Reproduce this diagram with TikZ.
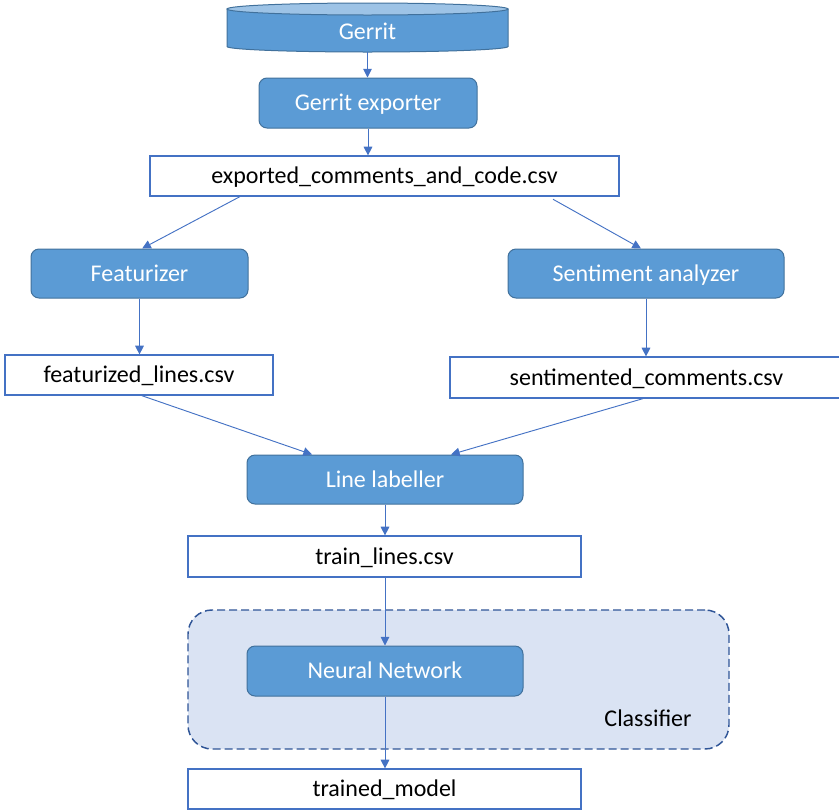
\documentclass[tikz,border=0pt]{standalone}
\usepackage{fontspec}
\setmainfont{Carlito}
\usetikzlibrary{arrows.meta,calc}
\definecolor{bfill}{HTML}{5B9BD5}
\definecolor{bborder}{HTML}{41719C}
\definecolor{lborder}{HTML}{4472C4}
\definecolor{cfill}{HTML}{DAE3F3}
\definecolor{cborder}{HTML}{2F5597}
\definecolor{ctop}{HTML}{9DC3E6}
\begin{document}
\begin{tikzpicture}[x=0.75pt,y=-0.75pt,
  every node/.style={font=\fontsize{18}{21}\selectfont,text height=11.6pt,text depth=0pt},
  bluebox/.style={draw=bborder,fill=bfill,rounded corners=6pt,text=white,minimum height=36.75pt,line width=0.75pt},
  filebox/.style={draw=lborder,fill=white,text=black,minimum height=30pt,line width=0.9pt},
  conn/.style={draw=lborder,line width=0.7pt,-{Triangle[length=6.5pt,width=6.5pt]}}]
\useasboundingbox (0,0) rectangle (839,811);
\clip (0,0) rectangle (839,811);
% Classifier container
\node[draw=cborder,fill=cfill,dash pattern=on 6pt off 3pt,rounded corners=18pt,line width=1.1pt,minimum width=405.75pt,minimum height=104.25pt] (clf) at (458.5,679.5) {};
\node[text=black] (clflabel) at (648,718.6) {Classifier};
% Gerrit cylinder
\fill[bfill,draw=bborder,line width=0.75pt] (227,9) -- (227,46.5) arc[start angle=180,end angle=0,x radius=140.5,y radius=5.5] -- (508,9) -- cycle;
\fill[ctop,draw=bborder,line width=0.75pt] (367.5,9) ellipse[x radius=140.5,y radius=6];
\node[text=white,minimum width=210pt,minimum height=30pt] (gerrit) at (367.5,31.6) {Gerrit};
% nodes
\node[bluebox,minimum width=163.5pt,minimum height=37.5pt] (exp) at (368,103) {Gerrit exporter};
\node[filebox,minimum width=351.75pt] (csv) at (384.5,176) {exported\_comments\_and\_code.csv};
\node[bluebox,minimum width=162.75pt] (feat) at (139.5,273.5) {Featurizer};
\node[bluebox,minimum width=207pt] (sent) at (646,273.5) {Sentiment analyzer};
\node[filebox,minimum width=201pt] (fcsv) at (139,375) {featurized\_lines.csv};
\node[filebox,minimum width=294.75pt,minimum height=30.75pt] (scsv) at (646.5,377.5) {sentimented\_comments.csv};
\node[bluebox,minimum width=207pt] (lab) at (385,479.5) {Line labeller};
\node[filebox,minimum width=294.75pt,minimum height=30.75pt] (train) at (384.5,556.5) {train\_lines.csv};
\node[bluebox,minimum width=207pt,minimum height=37.5pt] (nn) at (385,671) {Neural Network};
\node[filebox,minimum width=294.75pt] (model) at (384.5,789) {trained\_model};
% connectors
\draw[conn] (gerrit.south) -- (gerrit.south |- exp.north);
\draw[conn] (exp.south) -- (exp.south |- csv.north);
\draw[conn] ([xshift=-108.4pt]csv.south) -- ([xshift=2pt]feat.north);
\draw[conn] ([xshift=126.4pt,yshift=-2pt]csv.south) -- ([xshift=-3.75pt]sent.north);
\draw[conn] (feat.south) -- (feat.south |- fcsv.north);
\draw[conn] (sent.south) -- (sent.south |- scsv.north);
\draw[conn] ([xshift=2pt]fcsv.south) -- ([xshift=-54.75pt]lab.north);
\draw[conn] ([xshift=-2.6pt]scsv.south) -- ([xshift=49.5pt]lab.north);
\draw[conn] (lab.south) -- (lab.south |- train.north);
\draw[conn] (train.south -| nn.north) -- (nn.north);
\draw[conn] (nn.south) -- (nn.south |- model.north);
\end{tikzpicture}
\end{document}
